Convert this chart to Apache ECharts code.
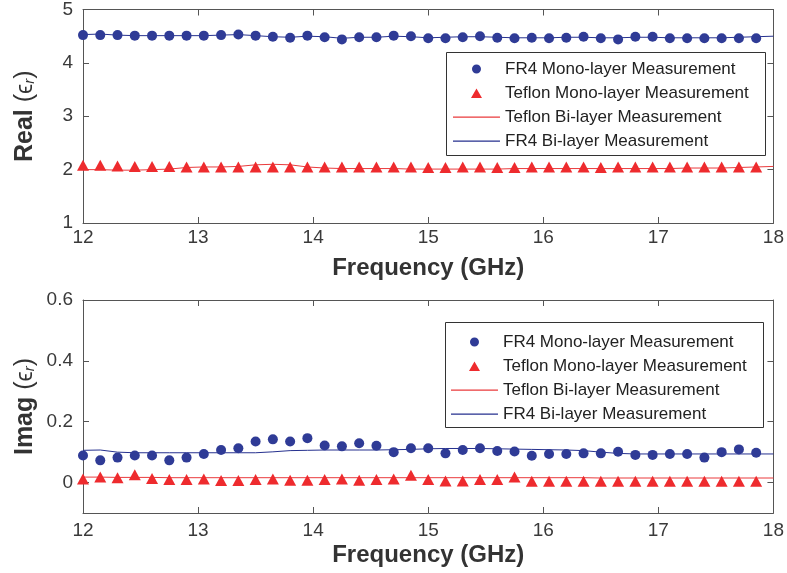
<!DOCTYPE html>
<html><head><meta charset="utf-8">
<script src="https://cdn.jsdelivr.net/npm/echarts@6/dist/echarts.min.js"></script>
<style>html,body{margin:0;padding:0;background:#fff}#c{width:787px;height:573px}</style>
</head><body><div id="c"></div>
<script>
// ---- data ----
const freq = [12, 12.15, 12.3, 12.45, 12.6, 12.75, 12.9, 13.05, 13.2, 13.35,
  13.5, 13.65, 13.8, 13.95, 14.1, 14.25, 14.4, 14.55, 14.7, 14.85,
  15, 15.15, 15.3, 15.45, 15.6, 15.75, 15.9, 16.05, 16.2, 16.35,
  16.5, 16.65, 16.8, 16.95, 17.1, 17.25, 17.4, 17.55, 17.7, 17.85];
const freqLine = [12, 12.15, 12.3, 12.45, 12.6, 12.75, 12.9, 13.05, 13.2, 13.35,
  13.5, 13.65, 13.8, 13.95, 14.1, 14.25, 14.4, 14.55, 14.7, 14.85,
  15, 15.15, 15.3, 15.45, 15.6, 15.75, 15.9, 16.05, 16.2, 16.35,
  16.5, 16.65, 16.8, 16.95, 17.1, 17.25, 17.4, 17.55, 17.7, 17.85, 18];

const fr4RealMono = [4.52, 4.52, 4.52, 4.51, 4.51, 4.51, 4.51, 4.51, 4.52, 4.53,
  4.51, 4.49, 4.47, 4.51, 4.48, 4.44, 4.48, 4.48, 4.51, 4.50,
  4.46, 4.46, 4.48, 4.50, 4.47, 4.46, 4.47, 4.46, 4.47, 4.49,
  4.46, 4.44, 4.49, 4.49, 4.46, 4.46, 4.46, 4.46, 4.46, 4.46];
const teflonRealMono = [2.08, 2.08, 2.07, 2.06, 2.06, 2.06, 2.05, 2.05, 2.05, 2.05,
  2.05, 2.05, 2.05, 2.05, 2.05, 2.05, 2.05, 2.05, 2.05, 2.05,
  2.04, 2.04, 2.05, 2.05, 2.04, 2.04, 2.05, 2.05, 2.05, 2.05,
  2.04, 2.05, 2.05, 2.05, 2.05, 2.05, 2.05, 2.05, 2.05, 2.05];
const fr4RealBi = [4.53, 4.54, 4.52, 4.51, 4.51, 4.51, 4.51, 4.51, 4.52, 4.53,
  4.51, 4.49, 4.48, 4.50, 4.49, 4.46, 4.48, 4.48, 4.50, 4.49,
  4.47, 4.48, 4.49, 4.49, 4.48, 4.47, 4.47, 4.47, 4.48, 4.48,
  4.47, 4.47, 4.48, 4.48, 4.47, 4.47, 4.47, 4.47, 4.48, 4.49, 4.50];
const teflonRealBi = [2.00, 2.00, 1.99, 1.99, 2.00, 2.01, 2.04, 2.05, 2.05, 2.06,
  2.09, 2.10, 2.09, 2.05, 2.03, 2.02, 2.02, 2.02, 2.02, 2.01,
  2.01, 2.01, 2.01, 2.01, 2.01, 2.02, 2.02, 2.02, 2.02, 2.02,
  2.02, 2.02, 2.02, 2.02, 2.02, 2.03, 2.03, 2.03, 2.04, 2.05, 2.06];

const fr4ImagMono = [0.089, 0.073, 0.082, 0.089, 0.089, 0.073, 0.082, 0.094, 0.107, 0.113,
  0.135, 0.142, 0.135, 0.146, 0.122, 0.119, 0.129, 0.121, 0.100, 0.113,
  0.113, 0.096, 0.107, 0.113, 0.104, 0.102, 0.088, 0.094, 0.094, 0.096,
  0.096, 0.101, 0.091, 0.091, 0.094, 0.094, 0.082, 0.100, 0.109, 0.098];
const teflonImagMono = [0.012, 0.018, 0.016, 0.026, 0.013, 0.010, 0.010, 0.012, 0.007, 0.007,
  0.010, 0.012, 0.008, 0.008, 0.010, 0.012, 0.008, 0.010, 0.012, 0.024,
  0.010, 0.005, 0.005, 0.010, 0.010, 0.018, 0.004, 0.004, 0.004, 0.004,
  0.004, 0.004, 0.004, 0.004, 0.004, 0.004, 0.004, 0.004, 0.004, 0.004];
const fr4ImagBi = [0.106, 0.107, 0.100, 0.098, 0.098, 0.098, 0.098, 0.098, 0.098, 0.098,
  0.098, 0.101, 0.105, 0.106, 0.107, 0.107, 0.107, 0.107, 0.108, 0.109,
  0.111, 0.112, 0.112, 0.112, 0.111, 0.110, 0.109, 0.108, 0.107, 0.105,
  0.100, 0.096, 0.094, 0.094, 0.094, 0.094, 0.094, 0.094, 0.094, 0.094, 0.094];
const teflonImagBi = [0.018, 0.018, 0.017, 0.017, 0.017, 0.016, 0.016, 0.016, 0.016, 0.016,
  0.016, 0.016, 0.016, 0.016, 0.016, 0.016, 0.016, 0.016, 0.016, 0.016,
  0.016, 0.016, 0.016, 0.016, 0.016, 0.016, 0.016, 0.016, 0.016, 0.016,
  0.015, 0.015, 0.015, 0.015, 0.015, 0.015, 0.015, 0.015, 0.015, 0.015, 0.015];

const realTicks = [1, 2, 3, 4, 5];
const imagTicks = [0, 0.2, 0.4, 0.6];
const names = ['FR4 Mono-layer Measurement', 'Teflon Mono-layer Measurement',
  'Teflon Bi-layer Measurement', 'FR4 Bi-layer Measurement'];

// ---- styling ----
const FONT = "'Liberation Sans', Arial, Helvetica, sans-serif";
const AX = '#555555';
const TXT = '#3a3a3a';
const BLUE = '#2f3b96';
const RED = '#ee2b2e';
const BLUE_LINE = '#26318f';
const RED_LINE = '#ea3b3d';

// legend icons (47 x 10 box, symbol centred)
const ICON_DOT = 'path://M0,0L0.01,0Z M47,10L47.01,10Z M23.5,0.5 A4.5,4.5 0 1 1 23.49,0.5Z';
const ICON_TRI = 'path://M0,0L0.01,0Z M47,10L47.01,10Z M18,10 L23.5,0.5 L29,10Z';
const ICON_LINE = 'path://M0,0L0.01,0Z M47,10L47.01,10Z M0,4.5 L47,4.5 L47,5.7 L0,5.7Z';

const zip = (xs, ys) => ys.map((v, i) => [xs[i], v]);

function xAx(grid, top) {
  return {
    type: 'value', gridIndex: grid, min: 12, max: 18, interval: 1,
    position: top ? 'top' : 'bottom',
    axisLine: { show: true, onZero: false, lineStyle: { color: AX, width: 1 } },
    axisTick: { show: true, inside: true, length: 6, lineStyle: { color: AX } },
    axisLabel: top ? { show: false } : { show: true, color: TXT, fontSize: 19, fontFamily: FONT, margin: grid === 0 ? 5 : 8 },
    splitLine: { show: false },
    name: top ? '' : 'Frequency (GHz)',
    nameLocation: 'middle', nameGap: grid === 0 ? 33 : 30,
    nameMoveOverlap: false,
    nameTextStyle: { fontSize: 24, fontWeight: 'bold', color: '#333', fontFamily: FONT }
  };
}
function yAx(grid, right, label) {
  const isReal = grid === 0;
  const base = {
    type: 'value', gridIndex: grid,
    position: right ? 'right' : 'left',
    axisLine: { show: true, onZero: false, lineStyle: { color: AX, width: 1 } },
    splitLine: { show: false }
  };
  if (isReal) {
    Object.assign(base, { min: 1, max: 5, interval: 1 });
    base.axisTick = { show: true, inside: true, length: 6, lineStyle: { color: AX } };
    base.axisLabel = right ? { show: false } : { show: true, color: TXT, fontSize: 19, fontFamily: FONT, margin: 10 };
  } else {
    Object.assign(base, { min: -0.1, max: 0.6 });
    base.axisTick = { show: true, inside: true, length: 6, lineStyle: { color: AX }, customValues: imagTicks };
    base.axisLabel = right ? { show: false } : { show: true, color: TXT, fontSize: 19, fontFamily: FONT, margin: 10, customValues: imagTicks };
  }
  if (!right) {
    base.name = label;
    base.nameLocation = 'middle';
    base.nameRotate = 90;
    base.nameGap = 45;
    base.nameMoveOverlap = false;
    base.nameTextStyle = {
      color: '#333', fontFamily: FONT,
      rich: {
        b: { fontSize: 25, fontWeight: 'bold', color: '#333', fontFamily: FONT },
        g: { fontSize: 25, color: '#333', fontFamily: FONT },
        e: { fontSize: 23, color: '#333', fontFamily: FONT },
        s: { fontSize: 15, fontStyle: 'italic', color: '#333', fontFamily: FONT, padding: [9, 0, 0, 0] }
      }
    };
  }
  return base;
}

function seriesFor(grid, fm, tm, tb, fb) {
  const xi = grid * 2, yi = grid * 2;
  return [
    { name: names[0], type: 'scatter', xAxisIndex: xi, yAxisIndex: yi, data: zip(freq, fm),
      symbol: 'circle', symbolSize: 10, itemStyle: { color: BLUE, opacity: 1 }, z: 3 },
    { name: names[1], type: 'scatter', xAxisIndex: xi, yAxisIndex: yi, data: zip(freq, tm),
      symbol: 'triangle', symbolSize: [12, 11], itemStyle: { color: RED, opacity: 1 }, z: 3 },
    { name: names[2], type: 'line', xAxisIndex: xi, yAxisIndex: yi, data: zip(freqLine, tb),
      symbol: 'none', smooth: false, lineStyle: { color: RED_LINE, width: 1 }, itemStyle: { color: RED_LINE }, z: 2 },
    { name: names[3], type: 'line', xAxisIndex: xi, yAxisIndex: yi, data: zip(freqLine, fb),
      symbol: 'none', smooth: false, lineStyle: { color: BLUE_LINE, width: 1 }, itemStyle: { color: BLUE_LINE }, z: 2 }
  ];
}

function legendAt(left, top, gap) {
  return {
    orient: 'vertical', left: left, top: top, padding: 0,
    itemWidth: 47, itemHeight: 10, itemGap: gap, selectedMode: false,
    lineStyle: { width: 0 },
    itemStyle: { borderWidth: 0 },
    data: [
      { name: names[0], icon: ICON_DOT, itemStyle: { color: BLUE, borderWidth: 0 } },
      { name: names[1], icon: ICON_TRI, itemStyle: { color: RED, borderWidth: 0 } },
      { name: names[2], icon: ICON_LINE, itemStyle: { color: RED_LINE, borderWidth: 0 } },
      { name: names[3], icon: ICON_LINE, itemStyle: { color: BLUE_LINE, borderWidth: 0 } }
    ],
    textStyle: { fontSize: 17, color: '#222', fontFamily: FONT, lineHeight: 18 }
  };
}

const chart = echarts.init(document.getElementById('c'), null, { renderer: 'canvas' });
chart.setOption({
  animation: false,
  backgroundColor: '#ffffff',
  textStyle: { fontFamily: FONT },
  grid: [
    { left: 83, top: 9, width: 691, height: 214 },
    { left: 83, top: 300, width: 691, height: 213 }
  ],
  xAxis: [xAx(0, false), xAx(0, true), xAx(1, false), xAx(1, true)],
  yAxis: [
    yAx(0, false, '{b|Real }{g|(}{e|ϵ}{s|r}{g|)}'), yAx(0, true),
    yAx(1, false, '{b|Imag }{g|(}{e|ϵ}{s|r}{g|)}'), yAx(1, true)
  ],
  legend: [legendAt(453, 60, 6), legendAt(451, 333, 6)],
  graphic: [
    { type: 'rect', shape: { x: 446.5, y: 52.5, width: 319, height: 103 },
      style: { fill: '#ffffff', stroke: '#333', lineWidth: 1 }, z: 3 },
    { type: 'rect', shape: { x: 445.5, y: 322.5, width: 318, height: 105 },
      style: { fill: '#ffffff', stroke: '#333', lineWidth: 1 }, z: 3 }
  ],
  series: [
    ...seriesFor(0, fr4RealMono, teflonRealMono, teflonRealBi, fr4RealBi),
    ...seriesFor(1, fr4ImagMono, teflonImagMono, teflonImagBi, fr4ImagBi)
  ]
});
</script></body></html>
